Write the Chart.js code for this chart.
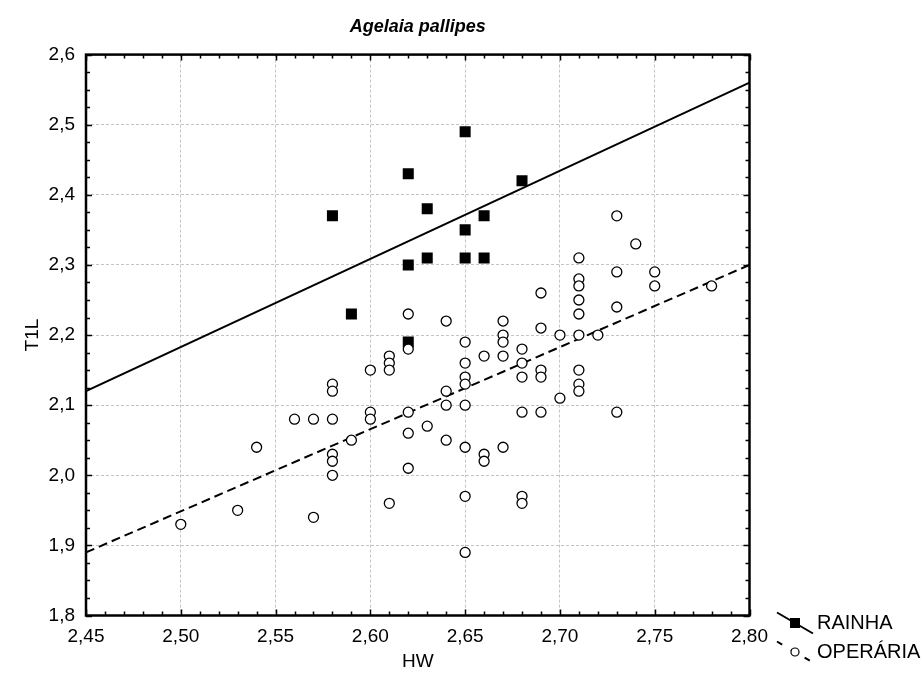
<!DOCTYPE html>
<html>
<head>
<meta charset="utf-8">
<script src="https://cdn.jsdelivr.net/npm/chart.js@4"></script>
<style>
  html, body { margin: 0; padding: 0; background: #fff; }
  #c { display: block; }
</style>
</head>
<body>
<canvas id="c" width="923" height="686"></canvas>
<script>
const chartTitle = 'Agelaia pallipes';
const xTitle = 'HW';
const yTitle = 'T1L';
const xTicks = [2.45, 2.50, 2.55, 2.60, 2.65, 2.70, 2.75, 2.80];
const yTicks = [1.8, 1.9, 2.0, 2.1, 2.2, 2.3, 2.4, 2.5, 2.6];

const rainhaLabel = 'RAINHA';
const rainhaHW  = [2.58, 2.59, 2.62, 2.62, 2.62, 2.63, 2.63, 2.65, 2.65, 2.65, 2.66, 2.66, 2.68];
const rainhaT1L = [2.37, 2.23, 2.43, 2.30, 2.19, 2.38, 2.31, 2.49, 2.35, 2.31, 2.37, 2.31, 2.42];

const operariaLabel = 'OPERÁRIA';
const operariaHW = [
  2.50, 2.53, 2.54, 2.56, 2.57, 2.57,
  2.58, 2.58, 2.58, 2.58, 2.58, 2.58,
  2.59, 2.60, 2.60, 2.60,
  2.61, 2.61, 2.61, 2.61,
  2.62, 2.62, 2.62, 2.62, 2.62,
  2.63, 2.64, 2.64, 2.64, 2.64,
  2.65, 2.65, 2.65, 2.65, 2.65, 2.65, 2.65, 2.65,
  2.66, 2.66, 2.66,
  2.67, 2.67, 2.67, 2.67, 2.67,
  2.68, 2.68, 2.68, 2.68, 2.68, 2.68,
  2.69, 2.69, 2.69, 2.69, 2.69,
  2.70, 2.70,
  2.71, 2.71, 2.71, 2.71, 2.71, 2.71, 2.71, 2.71, 2.71,
  2.72,
  2.73, 2.73, 2.73, 2.73,
  2.74, 2.75, 2.75, 2.78
];
const operariaT1L = [
  1.93, 1.95, 2.04, 2.08, 2.08, 1.94,
  2.13, 2.12, 2.08, 2.03, 2.02, 2.00,
  2.05, 2.15, 2.09, 2.08,
  2.17, 2.16, 2.15, 1.96,
  2.23, 2.18, 2.09, 2.06, 2.01,
  2.07, 2.22, 2.12, 2.10, 2.05,
  2.19, 2.16, 2.14, 2.13, 2.10, 2.04, 1.97, 1.89,
  2.17, 2.03, 2.02,
  2.22, 2.20, 2.19, 2.17, 2.04,
  2.18, 2.16, 2.14, 2.09, 1.97, 1.96,
  2.26, 2.21, 2.15, 2.14, 2.09,
  2.20, 2.11,
  2.31, 2.28, 2.27, 2.25, 2.23, 2.20, 2.15, 2.13, 2.12,
  2.20,
  2.37, 2.29, 2.24, 2.09,
  2.33, 2.29, 2.27, 2.27
];

// fitted regression lines (end points)
const rainhaFitHW = [2.45, 2.80];
const rainhaFitT1L = [2.12, 2.56];
const operariaFitHW = [2.45, 2.80];
const operariaFitT1L = [1.89, 2.30];

const toXY = (xs, ys) => xs.map((x, i) => ({ x: x, y: ys[i] }));
const fmt = (v, d) => v.toFixed(d).replace('.', ',');

const FONT = '"Liberation Sans", Arial, sans-serif';

const framePlugin = {
  id: 'frame',
  afterDatasetsDraw(chart) {
    const { ctx, chartArea: a, scales } = chart;
    const xs = scales.x, ys = scales.y;
    ctx.save();
    ctx.strokeStyle = '#000';
    ctx.lineWidth = 1.5;
    ctx.beginPath();
    // x minor/major ticks, every 0.01
    const nx = Math.round((xTicks[xTicks.length - 1] - xTicks[0]) / 0.01);
    for (let i = 0; i <= nx; i++) {
      const px = Math.round(xs.getPixelForValue(xTicks[0] + i * 0.01)) + 0.5;
      const len = (i % 5 === 0) ? 6 : 4;
      ctx.moveTo(px, a.bottom); ctx.lineTo(px, a.bottom - len);
      ctx.moveTo(px, a.top); ctx.lineTo(px, a.top + len);
    }
    // y ticks, every 0.025
    const ny = Math.round((yTicks[yTicks.length - 1] - yTicks[0]) / 0.025);
    for (let i = 0; i <= ny; i++) {
      const py = Math.round(ys.getPixelForValue(yTicks[0] + i * 0.025)) + 0.5;
      const len = (i % 4 === 0) ? 6 : 4;
      ctx.moveTo(a.left, py); ctx.lineTo(a.left + len, py);
      ctx.moveTo(a.right, py); ctx.lineTo(a.right - len, py);
    }
    ctx.stroke();
    ctx.lineWidth = 2.5;
    ctx.strokeRect(a.left, a.top, a.right - a.left, a.bottom - a.top);
    ctx.restore();
  },
  afterDraw(chart) {
    const { ctx } = chart;
    const ds = chart.data.datasets;
    ctx.save();
    ctx.font = '20px ' + FONT;
    ctx.fillStyle = '#000';
    ctx.textBaseline = 'middle';
    ctx.textAlign = 'left';
    const rows = [
      { label: ds[0].label, y: 623, dash: [], marker: 'rect' },
      { label: ds[1].label, y: 652, dash: [6, 10], marker: 'circle' }
    ];
    rows.forEach(r => {
      const cx = 795;
      ctx.strokeStyle = '#000';
      ctx.lineWidth = 2;
      ctx.setLineDash(r.dash);
      ctx.beginPath();
      ctx.moveTo(cx - 18, r.y - 10.5);
      ctx.lineTo(cx + 18, r.y + 10.5);
      ctx.stroke();
      ctx.setLineDash([]);
      if (r.marker === 'rect') {
        ctx.fillStyle = '#000';
        ctx.fillRect(cx - 5, r.y - 5, 10, 10);
      } else {
        ctx.fillStyle = '#fff';
        ctx.lineWidth = 1.2;
        ctx.beginPath();
        ctx.arc(cx, r.y, 4, 0, Math.PI * 2);
        ctx.fill();
        ctx.stroke();
      }
      ctx.fillStyle = '#000';
      ctx.fillText(r.label, 817, r.y);
    });
    ctx.restore();
  }
};

new Chart(document.getElementById('c'), {
  type: 'scatter',
  data: {
    datasets: [
      {
        label: rainhaLabel,
        data: toXY(rainhaHW, rainhaT1L),
        pointStyle: 'rect',
        pointRadius: 7.8,
        pointBackgroundColor: '#000',
        pointBorderColor: '#000',
        pointBorderWidth: 0,
        order: 1
      },
      {
        label: operariaLabel,
        data: toXY(operariaHW, operariaT1L),
        pointStyle: 'circle',
        pointRadius: 5,
        pointBackgroundColor: '#fff',
        pointBorderColor: '#000',
        pointBorderWidth: 1.3,
        order: 0
      },
      {
        label: rainhaLabel + ' fit',
        type: 'line',
        data: toXY(rainhaFitHW, rainhaFitT1L),
        borderColor: '#000',
        borderWidth: 2,
        pointRadius: 0,
        fill: false,
        order: 3
      },
      {
        label: operariaLabel + ' fit',
        type: 'line',
        data: toXY(operariaFitHW, operariaFitT1L),
        borderColor: '#000',
        borderWidth: 2,
        borderDash: [9, 5],
        pointRadius: 0,
        fill: false,
        order: 2
      }
    ]
  },
  options: {
    responsive: false,
    animation: false,
    devicePixelRatio: 1,
    layout: { padding: { left: 0, right: 173.5, top: 0, bottom: 0 } },
    plugins: {
      legend: { display: false },
      tooltip: { enabled: false },
      title: {
        display: true,
        text: chartTitle,
        fullSize: false,
        color: '#000',
        font: { family: FONT, size: 18, weight: 'bold', style: 'italic' },
        padding: { top: 16, bottom: 17 }
      }
    },
    scales: {
      x: {
        type: 'linear',
        min: xTicks[0],
        max: xTicks[xTicks.length - 1],
        afterBuildTicks: s => { s.ticks = xTicks.map(v => ({ value: v })); },
        afterFit: s => { s.height = 70.5; },
        grid: { color: '#c4c4c4', lineWidth: 1, drawTicks: false },
        border: { display: false, dash: [3, 2] },
        ticks: {
          color: '#000',
          padding: 10,
          maxRotation: 0,
          autoSkip: false,
          font: { family: FONT, size: 19 },
          callback: v => fmt(v, 2)
        },
        title: {
          display: true,
          text: xTitle,
          color: '#000',
          font: { family: FONT, size: 19 },
          padding: { top: 0, bottom: 12.6 }
        }
      },
      y: {
        type: 'linear',
        min: yTicks[0],
        max: yTicks[yTicks.length - 1],
        afterBuildTicks: s => { s.ticks = yTicks.map(v => ({ value: v })); },
        afterFit: s => { s.width = 86; },
        grid: { color: '#c4c4c4', lineWidth: 1, drawTicks: false },
        border: { display: false, dash: [3, 2] },
        ticks: {
          color: '#000',
          padding: 11,
          autoSkip: false,
          font: { family: FONT, size: 19 },
          callback: v => fmt(v, 1)
        },
        title: {
          display: true,
          text: yTitle,
          color: '#000',
          font: { family: FONT, size: 19 },
          padding: { top: 21, bottom: 0 }
        }
      }
    }
  },
  plugins: [framePlugin]
});
</script>
</body>
</html>
